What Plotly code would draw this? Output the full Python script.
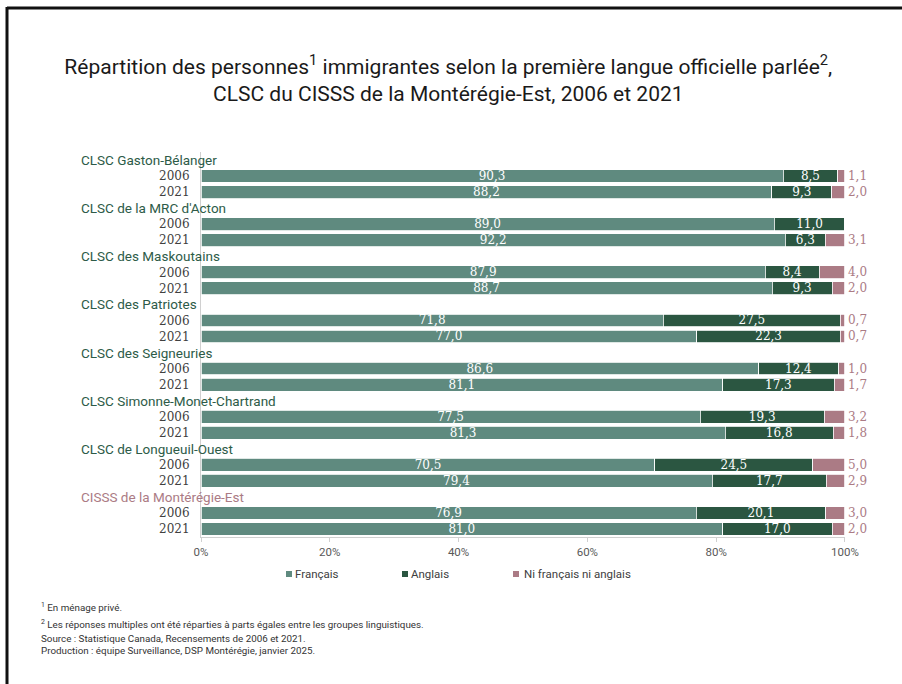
import plotly.graph_objects as go

# ---------------- data ----------------
groupes = [
    "CLSC Gaston-Bélanger",
    "CLSC de la MRC d'Acton",
    "CLSC des Maskoutains",
    "CLSC des Patriotes",
    "CLSC des Seigneuries",
    "CLSC Simonne-Monet-Chartrand",
    "CLSC de Longueuil-Ouest",
    "CISSS de la Montérégie-Est",
]
annees = ["2006", "2021"]
francais_2006 = [90.3, 89.0, 87.9, 71.8, 86.6, 77.5, 70.5, 76.9]
francais_2021 = [88.2, 92.2, 88.7, 77.0, 81.1, 81.3, 79.4, 81.0]
anglais_2006 = [8.5, 11.0, 8.4, 27.5, 12.4, 19.3, 24.5, 20.1]
anglais_2021 = [9.3, 6.3, 9.3, 22.3, 17.3, 16.8, 17.7, 17.0]
ni_2006 = [1.1, 0.0, 4.0, 0.7, 1.0, 3.2, 5.0, 3.0]
ni_2021 = [2.0, 3.1, 2.0, 0.7, 1.7, 1.8, 2.9, 2.0]
series = ["Français", "Anglais", "Ni français ni anglais"]
x_ticks = [0, 20, 40, 60, 80, 100]
x_ticklabels = ["0%", "20%", "40%", "60%", "80%", "100%"]

# ---------------- layout helpers ----------------
W, H = 902, 684
ML, MR, MT, MB = 201, 57, 152, 147
PW, PH = W - ML - MR, H - MT - MB


def px_x(px):
    return (px - ML) / PW


def px_y(py):
    return (H - MB - py) / PH


C_FR = "#5f8a7f"
C_AN = "#2b5641"
C_NI = "#ab7b85"
C_GRP = "#2d5b48"
SANS = "Roboto, 'Liberation Sans', sans-serif"
SERIF = "'DejaVu Serif', serif"
colors = [C_FR, C_AN, C_NI]

# build rows: label row, 2006 row, 2021 row for each group
ypos, ytext = [], []
fr, an, ni = [], [], []
label_rows = []
for g in range(len(groupes)):
    label_rows.append(3 * g)
    for k, (f, a, n) in enumerate([
        (francais_2006[g], anglais_2006[g], ni_2006[g]),
        (francais_2021[g], anglais_2021[g], ni_2021[g]),
    ]):
        ypos.append(3 * g + 1 + k)
        ytext.append(annees[k])
        fr.append(f)
        an.append(a)
        ni.append(n)


def fmt(v):
    return f"{v:.1f}".replace(".", ",") if v > 0 else ""


fig = go.Figure()
for name, vals, col in zip(series, [fr, an, ni], colors):
    is_ni = name == series[2]
    txt_col = C_NI if is_ni else "#ffffff"
    fig.add_trace(go.Bar(
        x=vals, y=ypos, orientation="h", name=name,
        marker=dict(color=col, line=dict(color="white", width=0.8)),
        width=0.8,
        text=[fmt(v) for v in vals],
        textposition="outside" if is_ni else "inside",
        insidetextanchor="middle",
        textangle=0,
        constraintext="none",
        cliponaxis=False,
        textfont=dict(color=txt_col, size=12, family=SERIF),
        insidetextfont=dict(color="#ffffff", size=12, family=SERIF),
        outsidetextfont=dict(color=C_NI, size=12, family=SERIF),
        showlegend=False,
        hoverinfo="skip",
    ))

annotations = []
shapes = []
for g, nm in enumerate(groupes):
    annotations.append(dict(
        x=px_x(79), xref="paper", xanchor="left",
        y=label_rows[g], yref="y", yanchor="middle",
        text=nm, showarrow=False,
        font=dict(family=SANS, size=13.5,
                  color=C_NI if g == len(groupes) - 1 else C_GRP),
    ))

# manual legend
leg_sq_x = [286, 402, 513]
leg_y = 574
for name, col, sx in zip(series, colors, leg_sq_x):
    shapes.append(dict(
        type="rect", xref="paper", yref="paper",
        x0=px_x(sx), x1=px_x(sx + 6), y0=px_y(leg_y - 3), y1=px_y(leg_y + 3),
        fillcolor=col, line=dict(width=0),
    ))
    annotations.append(dict(
        x=px_x(sx + 7 if name != series[2] else sx + 9), xref="paper", xanchor="left",
        y=px_y(leg_y), yref="paper", yanchor="middle",
        text=name, showarrow=False,
        font=dict(family=SANS, size=11.5, color="#404040"),
    ))

notes = [
    ("<sup>1</sup> En ménage privé.", 607),
    ("<sup>2</sup> Les réponses multiples ont été réparties à parts égales entre les groupes linguistiques.", 624),
    ("Source : Statistique Canada, Recensements de 2006 et 2021.", 638),
    ("Production : équipe Surveillance, DSP Montérégie, janvier 2025.", 650),
]
for txt, py in notes:
    annotations.append(dict(
        x=px_x(39), xref="paper", xanchor="left",
        y=px_y(py), yref="paper", yanchor="middle",
        text=txt, showarrow=False,
        font=dict(family=SANS, size=9.8, color="#333333"),
    ))

shapes += [
    dict(type="line", xref="paper", yref="paper",
         x0=px_x(7), x1=px_x(W + 2), y0=px_y(8), y1=px_y(8),
         line=dict(color="#111111", width=3)),
    dict(type="line", xref="paper", yref="paper",
         x0=px_x(7), x1=px_x(7), y0=px_y(7), y1=px_y(H + 2),
         line=dict(color="#111111", width=3)),
]

fig.update_layout(
    width=W, height=H,
    margin=dict(l=ML, r=MR, t=MT, b=MB, autoexpand=False),
    paper_bgcolor="white", plot_bgcolor="white",
    barmode="stack", barnorm="percent",
    showlegend=False,
    hovermode=False,
    title=dict(
        text="Répartition des personnes<sup>1</sup> immigrantes selon la première langue officielle parlée<sup>2</sup>,<br>CLSC du CISSS de la Montérégie-Est, 2006 et 2021",
        x=0.497, xref="container", xanchor="center",
        y=1 - 74 / H, yref="container", yanchor="middle",
        font=dict(family=SANS, size=21, color="#1a1a1a"),
    ),
    xaxis=dict(
        range=[0, 100.01], tickvals=x_ticks, ticktext=x_ticklabels,
        showgrid=False, zeroline=False,
        showline=True, linecolor="#d0d0d0", linewidth=1,
        ticks="outside", ticklen=4, tickcolor="#d0d0d0",
        tickfont=dict(family=SANS, size=11.5, color="#595959"),
    ),
    yaxis=dict(
        range=[23.5, -0.5], tickvals=ypos, ticktext=ytext,
        showgrid=False, zeroline=False,
        showline=True, linecolor="#d0d0d0", linewidth=1,
        ticks="", ticklabelstandoff=8,
        tickfont=dict(family=SERIF, size=12, color="#404040"),
    ),
    annotations=annotations,
    shapes=shapes,
)

fig.write_html(
    "out.html",
    config={"staticPlot": True, "displayModeBar": False},
    post_script="document.body.style.margin='0';",
)
